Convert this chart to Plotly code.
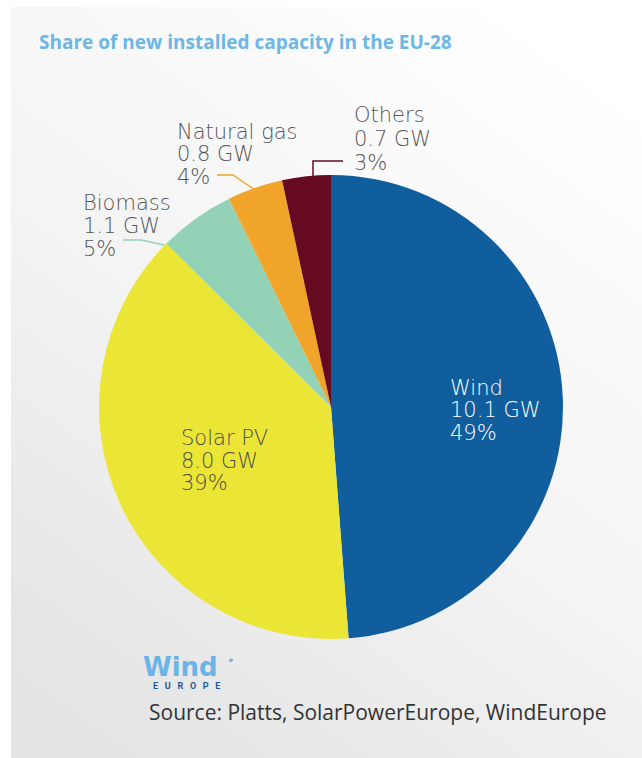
import base64
import plotly.graph_objects as go

# ---------------- data ----------------
categories = ["Wind", "Solar PV", "Biomass", "Natural gas", "Others"]
capacity_gw = [10.1, 8.0, 1.1, 0.8, 0.7]
share_pct = [49, 39, 5, 4, 3]
colors = ["#115e9e", "#ebe535", "#93d2b7", "#f0a52a", "#650a21"]

W, H = 642, 758


def px(x):
    return x / W


def py(y):
    return 1 - y / H


fig = go.Figure()

# ---------------- pie ----------------
cx, cy, r = 331, 407, 232
fig.add_trace(go.Pie(
    labels=categories,
    values=capacity_gw,
    marker=dict(colors=colors, line=dict(width=0)),
    sort=False,
    direction="clockwise",
    rotation=0,
    textinfo="none",
    hoverinfo="label+value+percent",
    showlegend=False,
    domain=dict(x=[px(cx - r), px(cx + r)], y=[py(cy + r), py(cy - r)]),
))

# ---------------- background gradient panel ----------------
svg = (
    '<svg xmlns="http://www.w3.org/2000/svg" width="642" height="758">'
    '<defs><linearGradient id="g" x1="0.8" y1="0" x2="0.2" y2="1">'
    '<stop offset="0" stop-color="#ffffff"/>'
    '<stop offset="0.55" stop-color="#f3f3f3"/>'
    '<stop offset="1" stop-color="#e4e4e4"/>'
    '</linearGradient></defs>'
    '<rect x="11" y="7" width="631" height="751" fill="url(#g)"/></svg>'
)
src = "data:image/svg+xml;base64," + base64.b64encode(svg.encode()).decode()
fig.add_layout_image(dict(
    source=src, xref="paper", yref="paper", x=0, y=1, sizex=1, sizey=1,
    xanchor="left", yanchor="top", sizing="stretch", layer="below",
))

LABEL_FONT = "DejaVu Sans"


def add_lines(x, y0, lines, color, size=21, spacing=22.5, weight=300):
    for i, t in enumerate(lines):
        fig.add_annotation(
            x=px(x), y=py(y0 + i * spacing), xref="paper", yref="paper",
            text=t, showarrow=False, xanchor="left", yanchor="middle",
            height=spacing - 0.5, borderpad=0,
            font=dict(family=LABEL_FONT, size=size, color=color, weight=weight),
        )


def lines_for(i):
    return [categories[i], f"{capacity_gw[i]:.1f} GW", f"{share_pct[i]}%"]


# inside labels
add_lines(449, 388, lines_for(0), "#ffffff")
add_lines(180, 438, lines_for(1), "#4d4d4d")
# outside labels
add_lines(82, 203, lines_for(2), "#555555", spacing=23)
add_lines(176, 132, lines_for(3), "#555555", spacing=22.5)
add_lines(353, 115, lines_for(4), "#555555", spacing=23.5)

# leader lines
leaders = [
    ([123, 141, 169], [240, 240, 246], colors[2]),
    ([217, 233, 255], [175, 175, 190], colors[3]),
    ([313, 313, 343], [177, 161, 161], colors[4]),
]
for xs, ys, c in leaders:
    path = "M " + " L ".join(f"{px(a)},{py(b)}" for a, b in zip(xs, ys))
    fig.add_shape(type="path", path=path, xref="paper", yref="paper",
                  line=dict(color=c, width=1.5), layer="below")

# title
fig.add_annotation(
    x=px(37), y=py(42), xref="paper", yref="paper", showarrow=False,
    xanchor="left", yanchor="middle",
    text="<b>Share of new installed capacity in the EU-28</b>",
    font=dict(family="Open Sans", size=19, color="#6db6e5"),
)

# logo
fig.add_annotation(
    x=px(141), y=py(667), xref="paper", yref="paper", showarrow=False,
    xanchor="left", yanchor="middle",
    text="<b>Wind</b>",
    font=dict(family="DejaVu Sans", size=26, color="#6bb4e6"),
)
fig.add_annotation(
    x=px(231), y=py(660), xref="paper", yref="paper", showarrow=False,
    xanchor="center", yanchor="middle", text="•",
    font=dict(family="DejaVu Sans", size=13, color="#6bb4e6"),
)
fig.add_annotation(
    x=px(151), y=py(686), xref="paper", yref="paper", showarrow=False,
    xanchor="left", yanchor="middle",
    text="<b>E&nbsp;&nbsp;&nbsp;U&nbsp;&nbsp;&nbsp;R&nbsp;&nbsp;&nbsp;O&nbsp;&nbsp;&nbsp;P&nbsp;&nbsp;&nbsp;E</b>",
    font=dict(family="Roboto", size=9, color="#1b5a9b", weight=900),
)

# source
fig.add_annotation(
    x=px(147), y=py(712), xref="paper", yref="paper", showarrow=False,
    xanchor="left", yanchor="middle",
    text="Source: Platts, SolarPowerEurope, WindEurope",
    font=dict(family="Open Sans", size=21, color="#333333"),
)

fig.update_layout(
    width=W, height=H,
    margin=dict(l=0, r=0, t=0, b=0),
    paper_bgcolor="#ffffff",
    plot_bgcolor="rgba(0,0,0,0)",
)

fig.write_html(
    "out.html",
    config={"displayModeBar": False},
    post_script="document.body.style.margin='0';document.body.style.overflow='hidden';",
)
